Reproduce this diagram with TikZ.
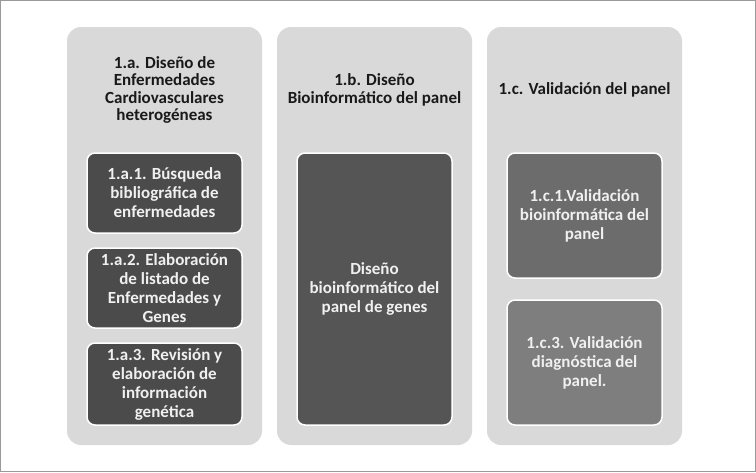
\documentclass[tikz,border=0pt]{standalone}
\usepackage{fontspec}
\setmainfont{Carlito}
\definecolor{colgray}{HTML}{D9D9D9}
\definecolor{boxdark}{HTML}{4B4B4B}
\definecolor{boxpanel}{HTML}{555555}
\definecolor{boxmid}{HTML}{6C6C6C}
\definecolor{boxlight}{HTML}{7E7E7E}
\definecolor{framegray}{HTML}{9A9A9A}

\begin{document}
\begin{tikzpicture}[x=1pt,y=-1pt,
  column/.style={fill=colgray,rounded corners=14pt,minimum width=195pt,minimum height=418pt,inner sep=0pt},
  heading/.style={align=center,text=black!90,font=\fontsize{17}{17.5}\selectfont\bfseries},
  task/.style={draw=white,line width=1.5pt,rounded corners=8pt,minimum width=155pt,inner sep=0pt,
    align=center,text=white!94!black,font=\fontsize{17}{19}\selectfont\bfseries}]
\useasboundingbox (0,0) rectangle (756,472);
\draw[framegray,line width=1pt] (0.5,0.5) rectangle (755.5,471.5);

\foreach \c/\x in {a/164.5,b/374.5,c/584.5}
	\node[column] (col\c) at (\x,236) {};

\node[heading] (ta) at (164.5,90) {1.a. Diseño de\\Enfermedades\\Cardiovasculares\\heterogéneas};
\node[heading] (tb) at (374.5,90) {1.b. Diseño\\Bioinformático del panel};
\node[heading] (tc) at (584.5,90) {1.c. Validación del panel};

\node[task,fill=boxdark,minimum height=80pt] (a1) at (164.5,193) {1.a.1. Búsqueda\\bibliográfica de\\enfermedades};
\node[task,fill=boxdark,minimum height=80pt] (a2) at (164.5,288) {1.a.2. Elaboración\\de listado de\\Enfermedades y\\Genes};
\node[task,fill=boxdark,minimum height=82pt] (a3) at (164.5,384) {1.a.3. Revisión y\\elaboración de\\información\\genética};

\node[task,fill=boxpanel,minimum height=272pt] (b1) at (374.5,289) {Diseño\\bioinformático del\\panel de genes};

\node[task,fill=boxmid,minimum height=125pt] (c1) at (584.5,215.5) {1.c.1.Validación\\bioinformática del\\panel};
\node[task,fill=boxlight,minimum height=125pt] (c2) at (584.5,362.5) {1.c.3. Validación\\diagnóstica del\\panel.};

\end{tikzpicture}
\end{document}
